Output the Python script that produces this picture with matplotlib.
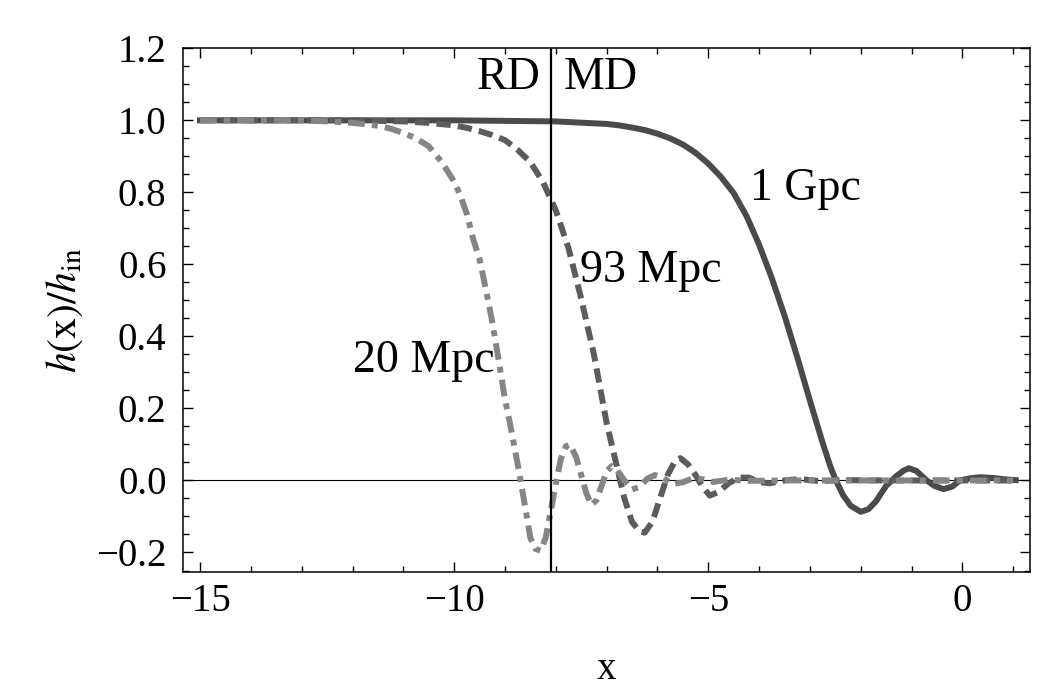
import numpy as np
import matplotlib
matplotlib.use("Agg")
import matplotlib.pyplot as plt
from matplotlib.ticker import MultipleLocator, FuncFormatter

plt.rcParams['font.family'] = ['Liberation Serif', 'DejaVu Serif']
plt.rcParams['mathtext.fontset'] = 'stix'

# 1 Gpc mode (solid)
x_1gpc = [-15, -10, -8, -7, -6.75, -6.5, -6.25, -6, -5.75, -5.5, -5.25, -5,
          -4.75, -4.5, -4.25, -4, -3.75, -3.5, -3.25, -3, -2.75, -2.6, -2.5,
          -2.35, -2.2, -2.0, -1.85, -1.7, -1.5, -1.3, -1.15, -1.05, -0.9,
          -0.7, -0.55, -0.37, -0.2, -0.05, 0.15, 0.35, 0.6, 0.85, 1.05]
y_1gpc = [1.0, 1.0, 0.997, 0.99, 0.986, 0.98, 0.973, 0.963, 0.95, 0.933, 0.91,
          0.88, 0.843, 0.798, 0.735, 0.655, 0.562, 0.458, 0.343, 0.222, 0.105,
          0.04, 0.004, -0.04, -0.07, -0.087, -0.08, -0.058, -0.015, 0.012,
          0.028, 0.034, 0.026, 0.0, -0.015, -0.024, -0.017, 0.0, 0.006,
          0.009, 0.007, 0.003, 0.001]

# 93 Mpc mode (dashed)
x_93 = [-15, -12, -11, -10.5, -10, -9.75, -9.5, -9.25, -9, -8.75, -8.5, -8.25,
        -8.0, -7.75, -7.5, -7.25, -7.0, -6.8, -6.65, -6.5, -6.35, -6.25, -6.1,
        -5.95, -5.8, -5.65, -5.55, -5.4, -5.25, -5.1, -4.97, -4.8, -4.6, -4.4,
        -4.2, -4.0, -3.8, -3.5, -3.2, -2.8, -2.4, -1.5, 1.0]
y_93 = [1.0, 1.0, 0.997, 0.993, 0.986, 0.979, 0.970, 0.959, 0.945, 0.918,
        0.884, 0.828, 0.75, 0.645, 0.505, 0.35, 0.16, 0.04, -0.05, -0.115,
        -0.142, -0.145, -0.115, -0.05, 0.015, 0.055, 0.062, 0.045, 0.015,
        -0.02, -0.042, -0.032, -0.008, 0.008, 0.008, -0.004, -0.008, 0.0,
        0.004, -0.002, 0.001, 0.0, 0.0]

# 20 Mpc mode (dash-dot)
x_20 = [-15, -13, -12.5, -12, -11.5, -11.25, -11, -10.75, -10.5, -10.25,
        -10.0, -9.875, -9.75, -9.625, -9.5, -9.375, -9.25, -9.125, -9.0,
        -8.9, -8.75, -8.6, -8.5, -8.4, -8.3, -8.2, -8.1, -8.0, -7.9, -7.8,
        -7.72, -7.6, -7.5, -7.4, -7.3, -7.2, -7.1, -7.0, -6.9, -6.8, -6.65,
        -6.5, -6.35, -6.2, -6.05, -5.9, -5.7, -5.5, -5.3, -5.1, -4.9, -4.6,
        -4.2, -3.5, 1.0]
y_20 = [1.0, 1.0, 0.997, 0.993, 0.985, 0.977, 0.965, 0.95, 0.928, 0.885,
        0.83, 0.79, 0.74, 0.67, 0.615, 0.53, 0.44, 0.335, 0.225, 0.157,
        0.045, -0.075, -0.16, -0.19, -0.195, -0.16, -0.085, -0.01, 0.06,
        0.095, 0.1, 0.065, 0.015, -0.035, -0.068, -0.055, -0.015, 0.025,
        0.04, 0.03, 0.0, -0.025, -0.018, 0.005, 0.015, 0.008, -0.01, -0.005,
        0.006, 0.003, -0.004, 0.002, -0.001, 0.0, 0.0]

x_eq = -8.1

fig = plt.figure(figsize=(10.57, 6.97), dpi=100)
ax = fig.add_axes([0.1734, 0.1789, 0.801, 0.7518])

ax.axhline(0, color='black', lw=0.8, zorder=1)
ax.plot(x_1gpc, y_1gpc, color='#4a4a4a', lw=4.3, zorder=2,
        solid_joinstyle='round')
ax.plot(x_93, y_93, color='#5c5c5c', lw=4.3, dashes=(2.4, 1.2), zorder=3)
ax.plot(x_20, y_20, color='#858585', lw=4.3, dashes=(2.8, 1.2, 1.0, 1.2),
        zorder=4)
ax.axvline(x_eq, color='black', lw=1.6, zorder=5)

ax.text(x_eq - 0.2, 1.117, 'RD', fontsize=33, ha='right', va='center')
ax.text(x_eq + 0.25, 1.117, 'MD', fontsize=33, ha='left', va='center')
ax.text(-4.18, 0.81, '1 Gpc', fontsize=33, ha='left', va='center')
ax.text(-7.52, 0.583, '93 Mpc', fontsize=33, ha='left', va='center')
ax.text(-12.0, 0.333, '20 Mpc', fontsize=33, ha='left', va='center')

ax.set_xlim(-15.33, 1.33)
ax.set_ylim(-0.255, 1.2)
ax.xaxis.set_major_locator(MultipleLocator(5))
ax.xaxis.set_minor_locator(MultipleLocator(1))
ax.yaxis.set_major_locator(MultipleLocator(0.2))
ax.yaxis.set_minor_locator(MultipleLocator(0.05))
ax.yaxis.set_major_formatter(
    FuncFormatter(lambda v, p: ('%.1f' % v).replace('-', '\u2212')))
ax.tick_params(which='both', direction='in', top=True, right=True, width=1.0)
ax.tick_params(which='major', length=7, labelsize=28, pad=8)
ax.tick_params(which='minor', length=4)
ax.tick_params(axis='y', which='major', pad=12)
for s in ax.spines.values():
    s.set_linewidth(1.1)

ax.set_xlabel('x', fontsize=28, labelpad=22)
ax.set_ylabel(r'$h(\mathrm{x})/h_{\mathrm{in}}$', fontsize=30, labelpad=8)

fig.savefig('out.png', dpi=100)
